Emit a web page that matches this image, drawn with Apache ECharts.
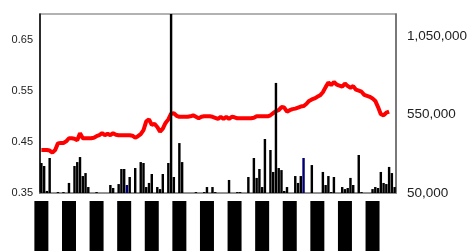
<!DOCTYPE html>
<html>
<head>
<meta charset="utf-8">
<script src="https://cdn.jsdelivr.net/npm/echarts@6/dist/echarts.min.js"></script>
<style>
  html, body { margin: 0; padding: 0; background: #fff; }
  #chart { width: 472px; height: 251px; }
</style>
</head>
<body>
<div id="chart"></div>
<script>
// weekly categories (labels are drawn as solid black blocks in the original)
const categories = [];
(function () {
  const d = new Date(Date.UTC(2003, 0, 3));
  const pad = n => (n < 10 ? '0' : '') + n;
  for (let i = 0; i < 129; i++) {
    categories.push(pad(d.getUTCMonth() + 1) + '/' + pad(d.getUTCDate()) + '/' + d.getUTCFullYear());
    d.setUTCDate(d.getUTCDate() + 7);
  }
})();

// left axis series (red line)
const ratio = [
  0.434, 0.434, 0.434, 0.433, 0.429, 0.434, 0.447, 0.448, 0.448, 0.451,
  0.457, 0.457, 0.456, 0.453, 0.467, 0.457, 0.457, 0.457, 0.457, 0.458,
  0.461, 0.463, 0.467, 0.463, 0.466, 0.463, 0.467, 0.464, 0.463, 0.463,
  0.463, 0.463, 0.463, 0.462, 0.458, 0.461, 0.465, 0.473, 0.490, 0.494,
  0.483, 0.485, 0.479, 0.470, 0.476, 0.487, 0.494, 0.505, 0.506, 0.501,
  0.499, 0.499, 0.499, 0.499, 0.500, 0.502, 0.499, 0.496, 0.499, 0.500,
  0.500, 0.500, 0.499, 0.497, 0.495, 0.499, 0.495, 0.499, 0.495, 0.499,
  0.498, 0.496, 0.496, 0.496, 0.496, 0.496, 0.496, 0.497, 0.500, 0.500,
  0.500, 0.500, 0.500, 0.502, 0.506, 0.510, 0.512, 0.518, 0.517, 0.509,
  0.512, 0.514, 0.515, 0.517, 0.519, 0.520, 0.524, 0.530, 0.533, 0.535,
  0.538, 0.541, 0.547, 0.557, 0.566, 0.561, 0.567, 0.562, 0.560, 0.558,
  0.564, 0.559, 0.556, 0.559, 0.552, 0.550, 0.548, 0.542, 0.540, 0.538,
  0.535, 0.530, 0.518, 0.504, 0.502, 0.507, 0.509
];

// right axis series (black bars)
const volume = [
  241000, 222000, 63000, 273000, 0, 0, 56000, 0, 56000, 0,
  114000, 0, 222000, 247000, 279000, 158000, 177000, 88000, 0, 0,
  56000, 0, 0, 0, 0, 101000, 82000, 0, 107000, 203000,
  203000, 101000, 152000, 0, 209000, 0, 247000, 241000, 88000, 114000,
  171000, 0, 88000, 75000, 171000, 0, 241000, 1210000, 152000, 0,
  368000, 247000, 0, 0, 0, 0, 56000, 0, 0, 56000,
  88000, 0, 88000, 56000, 0, 0, 0, 0, 133000, 0,
  0, 56000, 56000, 0, 0, 152000, 0, 273000, 146000, 203000,
  88000, 394000, 0, 324000, 184000, 751000, 209000, 196000, 63000, 88000,
  0, 0, 158000, 114000, 158000, 273000, 0, 0, 228000, 0,
  0, 0, 184000, 101000, 158000, 56000, 152000, 0, 0, 88000,
  75000, 82000, 146000, 101000, 0, 292000, 56000, 0, 0, 0,
  75000, 88000, 82000, 184000, 114000, 107000, 216000, 177000, 88000
];
const navyBars = [31, 95];

const leftTicks = { min: 0.35, max: 0.70, interval: 0.1 };
const rightTicks = { min: 50000, max: 1190000, interval: 500000 };

const chart = echarts.init(document.getElementById('chart'));
chart.setOption({
  animation: false,
  textStyle: { fontFamily: 'Arial, "Liberation Sans", sans-serif' },
  grid: {
    left: 40, right: 76, top: 14, bottom: 58,
    outerBoundsMode: 'none',
    containLabel: false,
    show: true, borderColor: '#999', borderWidth: 1.5, backgroundColor: '#fff'
  },
  xAxis: {
    type: 'category',
    data: categories,
    boundaryGap: true,
    axisLine: { lineStyle: { color: '#888', width: 1.5 } },
    axisTick: { show: false },
    axisLabel: {
      interval: 9,
      rotate: 90,
      margin: 8,
      fontSize: 11,
      lineHeight: 14,
      color: '#000',
      backgroundColor: '#000',
      padding: [0, 0, 0, 0]
    },
    splitLine: { show: false }
  },
  yAxis: [
    {
      type: 'value',
      min: leftTicks.min, max: leftTicks.max, interval: leftTicks.interval,
      position: 'left',
      axisLine: { show: true, lineStyle: { color: '#000', width: 1.5 } },
      axisTick: { show: false },
      splitLine: { show: false },
      axisLabel: {
        showMaxLabel: false,
        margin: 7,
        fontSize: 11,
        color: '#222',
        formatter: v => v.toFixed(2)
      }
    },
    {
      type: 'value',
      min: rightTicks.min, max: rightTicks.max, interval: rightTicks.interval,
      position: 'right',
      axisLine: { show: true, lineStyle: { color: '#666', width: 1.5 } },
      axisTick: { show: false },
      splitLine: { show: false },
      axisLabel: {
        showMaxLabel: false,
        margin: 11,
        fontSize: 13.5,
        color: '#222',
        formatter: v => v.toLocaleString('en-US')
      }
    }
  ],
  series: [
    {
      type: 'line',
      yAxisIndex: 0,
      data: ratio,
      showSymbol: false,
      z: 2,
      lineStyle: { color: '#ff0000', width: 4 }
    },
    {
      type: 'bar',
      yAxisIndex: 1,
      z: 3,
      clip: true,
      barCategoryGap: '12%',
      data: volume.map((v, i) => navyBars.includes(i)
        ? { value: v, itemStyle: { color: '#000070' } }
        : v),
      itemStyle: { color: '#000' }
    }
  ]
});
</script>
</body>
</html>
